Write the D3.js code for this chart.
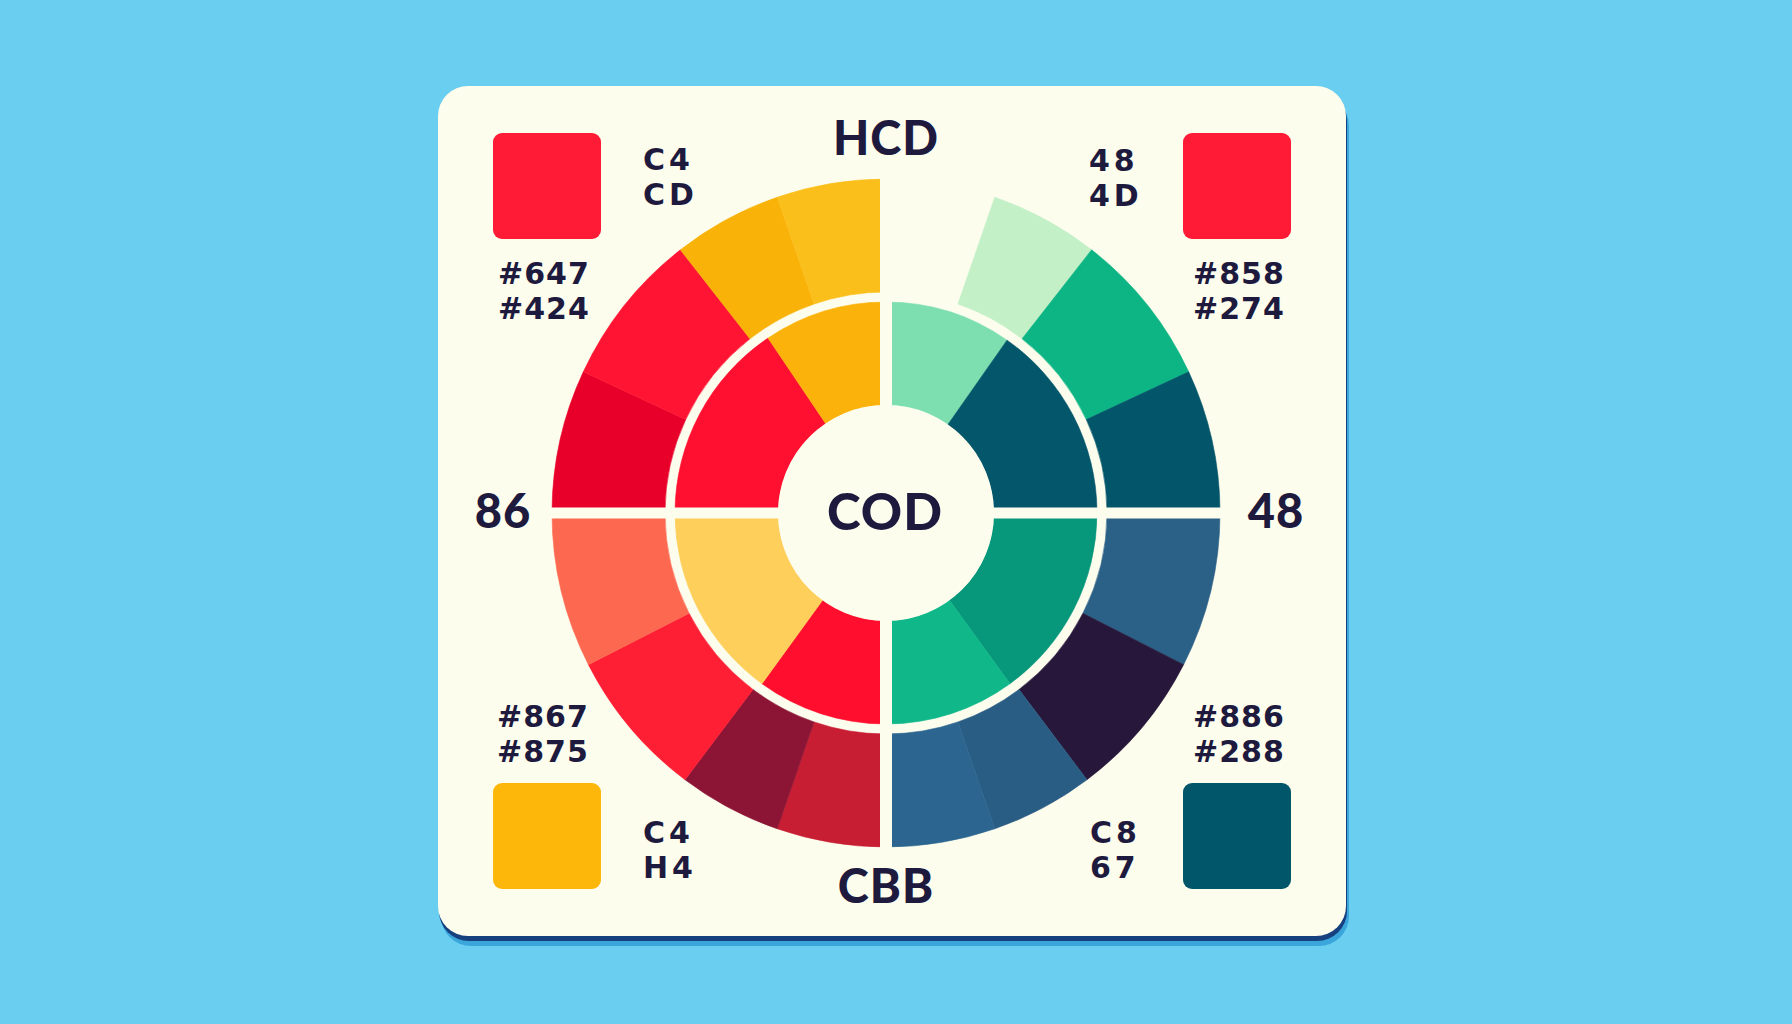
<!DOCTYPE html>
<html>
<head>
<meta charset="utf-8">
<script src="https://cdn.jsdelivr.net/npm/d3@7"></script>
<style>
  html, body { margin: 0; padding: 0; background: #69cef0; }
  svg { display: block; }
  text { font-family: Lato, "Open Sans", sans-serif; font-weight: 900; fill: #1d1a3e; }
  text.small { font-family: "DejaVu Sans", Lato, sans-serif; font-weight: bold; }
</style>
</head>
<body>
<script>
// ---------- data ----------
// quadrant order: top-right, bottom-right, bottom-left, top-left (clockwise from top)
const quadrants = ["TR", "BR", "BL", "TL"];
// outer ring: angular spans (degrees) of each segment within its quadrant, clockwise
const outerSpans = [
  [19, 19, 27, 25],
  [27, 26, 18, 19],
  [19, 18, 26, 27],
  [25, 27, 19, 19]
];
const outerColors = [
  [null, "#c4f0c8", "#0db584", "#03566a"],
  ["#2b6087", "#27183b", "#2a5d84", "#2c6690"],
  ["#c81e34", "#8c1535", "#ff1f35", "#fd6950"],
  ["#e8002a", "#ff1533", "#f9b208", "#fbbf1c"]
];
// inner ring
const innerSpans = [
  [35, 55],
  [54, 36],
  [36, 54],
  [56, 34]
];
const innerColors = [
  ["#7ddfb0", "#04566a"],
  ["#07977a", "#0fb789"],
  ["#ff0f2d", "#fecf5b"],
  ["#ff1030", "#fbb30b"]
];
const axisLabels = ["HCD", "48", "CBB", "86"]; // top, right, bottom, left
const centerLabel = "COD";
const cornerCodes = [["48", "4D"], ["C8", "67"], ["C4", "H4"], ["C4", "CD"]];
const cornerHex = [["#858", "#274"], ["#886", "#288"], ["#867", "#875"], ["#647", "#424"]];
const swatchColors = ["#ff1a35", "#02566a", "#fcb70a", "#ff1a35"];

// ---------- layout ----------
const W = 1792, H = 1024;
const cx = 886, cy = 513;
const rOuter = [221, 334], rInner = [108, 211];
const card = { x: 438, y: 86, w: 908, h: 850, r: 30 };
const creamy = "#fdfdee";

const svg = d3.select("body").append("svg").attr("width", W).attr("height", H);
svg.append("rect").attr("width", W).attr("height", H).attr("fill", "#69cef0");

// card shadow + card
svg.append("rect").attr("x", card.x + 3).attr("y", card.y + 10).attr("width", card.w).attr("height", card.h)
  .attr("rx", card.r).attr("fill", "#3aa6dc");
svg.append("rect").attr("x", card.x + 1).attr("y", card.y + 5).attr("width", card.w).attr("height", card.h)
  .attr("rx", card.r).attr("fill", "#16407e");
svg.append("rect").attr("x", card.x).attr("y", card.y).attr("width", card.w).attr("height", card.h)
  .attr("rx", card.r).attr("fill", creamy);

// ---------- rings ----------
const deg = d3.scaleLinear().domain([0, 360]).range([0, 2 * Math.PI]);
const g = svg.append("g").attr("transform", `translate(${cx},${cy})`);

function drawRing(spans, colors, radii) {
  const arc = d3.arc().innerRadius(radii[0]).outerRadius(radii[1]);
  spans.forEach((vals, q) => {
    const pie = d3.pie().sort(null).value(d => d)
      .startAngle(deg(q * 90)).endAngle(deg((q + 1) * 90));
    g.selectAll(null).data(pie(vals)).enter().append("path")
      .attr("d", arc)
      .attr("fill", (d, i) => colors[q][i] || "none")
      .attr("stroke", (d, i) => colors[q][i] || "none")
      .attr("stroke-width", 0.6);
  });
}
drawRing(outerSpans, outerColors, rOuter);
drawRing(innerSpans, innerColors, rInner);

// quadrant separators
g.append("line").attr("x1", 0).attr("x2", 0).attr("y1", -rOuter[1] - 4).attr("y2", rOuter[1] + 4)
  .attr("stroke", creamy).attr("stroke-width", 12);
g.append("line").attr("y1", 0).attr("y2", 0).attr("x1", -rOuter[1] - 4).attr("x2", rOuter[1] + 4)
  .attr("stroke", creamy).attr("stroke-width", 11);
// center hole
g.append("circle").attr("r", rInner[0]).attr("fill", creamy);

// ---------- labels ----------
const mainSize = 47;
const axisPos = [[0, -358], [390, 15], [0, 390], [-383, 15]];
axisLabels.forEach((t, i) => {
  g.append("text").attr("x", axisPos[i][0]).attr("y", axisPos[i][1])
    .attr("text-anchor", "middle").attr("font-size", mainSize).attr("letter-spacing", 1).text(t);
});
g.append("text").attr("x", -1).attr("y", 17).attr("text-anchor", "middle")
  .attr("font-size", 51).attr("letter-spacing", 1).text(centerLabel);

// corner blocks
const swatchPos = [[1183, 133], [1183, 783], [493, 783], [493, 133]];
const codePos = [[1089, 171], [1090, 843], [643, 843], [643, 170]];
const hexPos = [[1193, 284], [1193, 727], [497, 727], [498, 284]];
const smallSize = 30;
function twoLine(lines, pos, gap, spacing) {
  lines.forEach((s, j) => {
    svg.append("text").attr("class", "small").attr("x", pos[0]).attr("y", pos[1] + j * gap)
      .attr("font-size", smallSize).attr("letter-spacing", spacing).text(s);
  });
}
quadrants.forEach((q, i) => {
  svg.append("rect").attr("x", swatchPos[i][0]).attr("y", swatchPos[i][1])
    .attr("width", 108).attr("height", 106).attr("rx", 9).attr("fill", swatchColors[i]);
  twoLine(cornerCodes[i], codePos[i], 35, 4);
  twoLine(cornerHex[i], hexPos[i], 35, 1);
});
</script>
</body>
</html>
